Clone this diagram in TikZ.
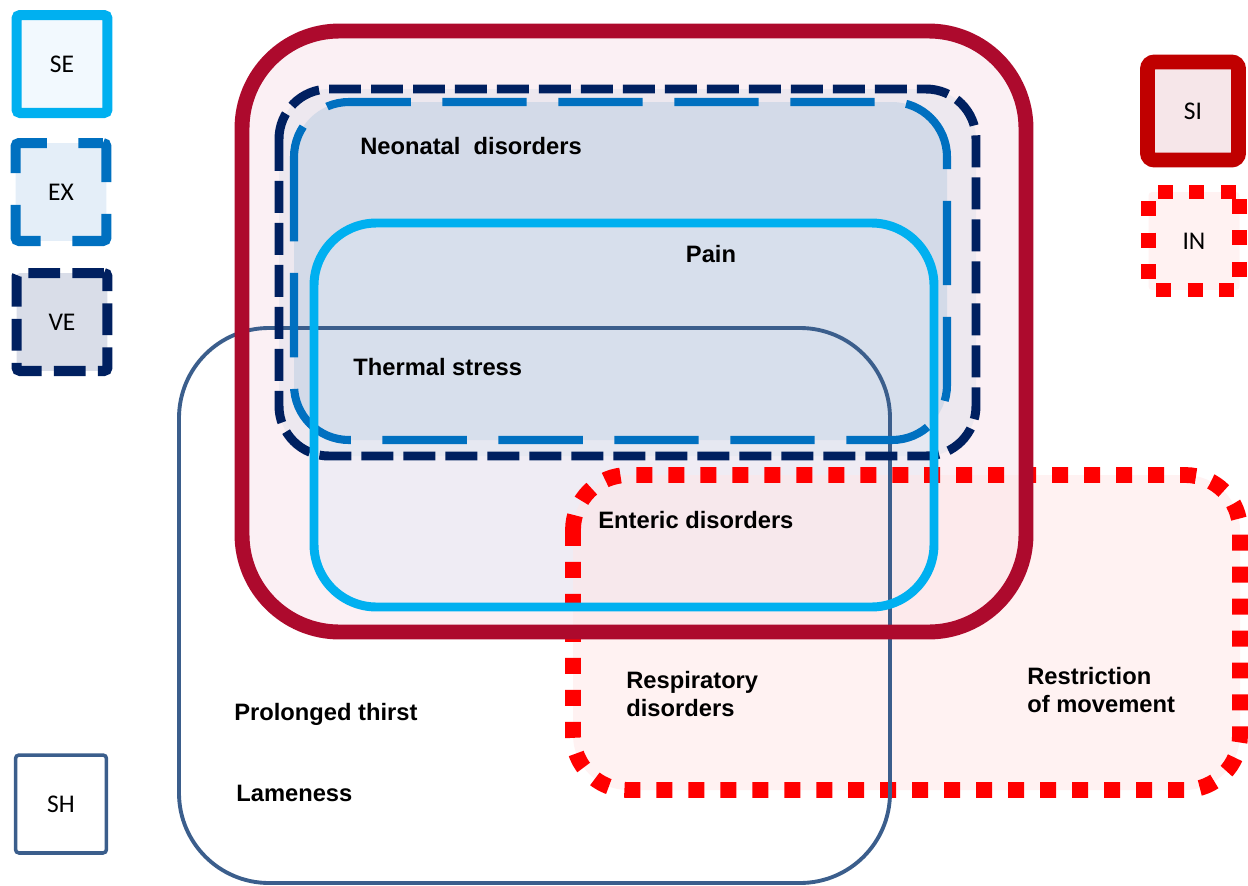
\documentclass[tikz,border=0pt]{standalone}
\usepackage{fontspec}
\setmainfont{Liberation Sans}
\newfontfamily\keyfont{Carlito}
\usepackage{tikz}
\usetikzlibrary{positioning}
\definecolor{seblue}{HTML}{00B0F0}
\definecolor{exblue}{HTML}{0070C0}
\definecolor{venavy}{HTML}{002060}
\definecolor{shgrey}{HTML}{3B5E8C}
\definecolor{sired}{HTML}{C00000}
\definecolor{sidark}{HTML}{AD0A2D}
\definecolor{inred}{HTML}{FF0000}
\definecolor{hdrse}{HTML}{F2F9FE}
\definecolor{hdrex}{HTML}{E4EEF8}
\definecolor{hdrve}{HTML}{D9DDE8}
\definecolor{hdrsi}{HTML}{F6E6E9}
\definecolor{hdrin}{HTML}{FFF2F2}
\definecolor{areasi}{HTML}{FBF0F4}
\definecolor{areaex}{HTML}{BFD0E4}
\definecolor{arease}{HTML}{DDE8F4}
\definecolor{areain}{HTML}{FFE5E6}
\tikzset{
  keybox/.style={rectangle, minimum width=1.82cm, minimum height=1.96cm,
    rounded corners=2pt, font=\keyfont\fontsize{14.5}{16}\selectfont},
  sekey/.style={keybox, draw=seblue, fill=hdrse, line width=5.7pt},
  exkey/.style={keybox, draw=exblue, fill=hdrex, line width=5.7pt,
    dash pattern=on 34pt off 18pt, dash phase=20pt},
  vekey/.style={keybox, draw=venavy, fill=hdrve, line width=5.7pt,
    dash pattern=on 18pt off 7pt},
  shkey/.style={keybox, draw=shgrey, line width=2pt},
  sikey/.style={keybox, draw=sired, fill=hdrsi, line width=8.5pt, rounded corners=4pt},
  inkey/.style={keybox, draw=inred, fill=hdrin, line width=8.5pt,
    dash pattern=on 8.5pt off 9.5pt},
  sifill/.style={fill=areasi},
  vefill/.style={fill=hdrve, fill opacity=0.4},
  exfill/.style={fill=areaex, fill opacity=0.55},
  sefill/.style={fill=arease, fill opacity=0.4},
  infill/.style={fill=areain, fill opacity=0.5},
  siline/.style={draw=sidark, line width=8.5pt},
  shline/.style={draw=shgrey, line width=2.2pt},
  veline/.style={draw=venavy, line width=5.1pt, dash pattern=on 18.2pt off 5.7pt},
  exline/.style={draw=exblue, line width=4.6pt, dash pattern=on 48pt off 18pt},
  seline/.style={draw=seblue, line width=5.1pt},
  inline/.style={draw=inred, line width=9pt, dash pattern=on 9.1pt off 9.1pt},
  lbl/.style={anchor=west, inner sep=0pt, align=left,
    font=\bfseries\fontsize{13.5}{16}\selectfont}
}
\begin{document}
\begin{tikzpicture}[x=0.02cm, y=-0.02cm]
  \useasboundingbox (0,0) rectangle (1248,886);

  % Key
  \node[sekey] (se) at (62,64) {SE};
  \node[exkey] (ex) at (61,192) {EX};
  \node[vekey] (ve) at (62,322) {VE};
  \node[shkey] (sh) at (61,804) {SH};
  \node[sikey] (si) at (1193,111) {SI};
  \node[inkey] (in) at (1194,241) {IN};

  % Area fills
  \fill[sifill, rounded corners=1.95cm] (242,31) rectangle (1026,632);
  \fill[vefill, rounded corners=1.0cm] (279,89) rectangle (976,456);
  \fill[exfill, rounded corners=1.1cm] (294,102) rectangle (947,440);
  \fill[sefill, rounded corners=1.25cm] (314,223) rectangle (934,607);
  \fill[infill, rounded corners=1.1cm] (573,475) rectangle (1240,790);

  % Area borders
  \draw[inline, rounded corners=1.1cm] (573,475) rectangle (1240,790);
  \draw[shline, rounded corners=1.8cm] (179,328) rectangle (890,883);
  \draw[siline, rounded corners=1.95cm] (242,31) rectangle (1026,632);
  \draw[veline, rounded corners=1.0cm] (279,89) rectangle (976,456);
  \draw[exline, rounded corners=1.1cm] (294,102) rectangle (947,440);
  \draw[seline, rounded corners=1.25cm] (314,223) rectangle (934,607);

  % Labels
  \node[lbl] (neo) at (360,146) {Neonatal\ \ disorders};
  \node[lbl, anchor=center] (pain) at (711,254) {Pain};
  \node[lbl] (therm) at (353,367) {Thermal stress};
  \node[lbl] (enter) at (598,520) {Enteric disorders};
  \node[lbl] (resp) at (626,694) {Respiratory\\disorders};
  \node[lbl] (restr) at (1027,690) {Restriction\\of movement};
  \node[lbl] (thirst) at (234,714) {Prolonged thirst};
  \node[lbl] (lame) at (236,793) {Lameness};
\end{tikzpicture}
\end{document}
